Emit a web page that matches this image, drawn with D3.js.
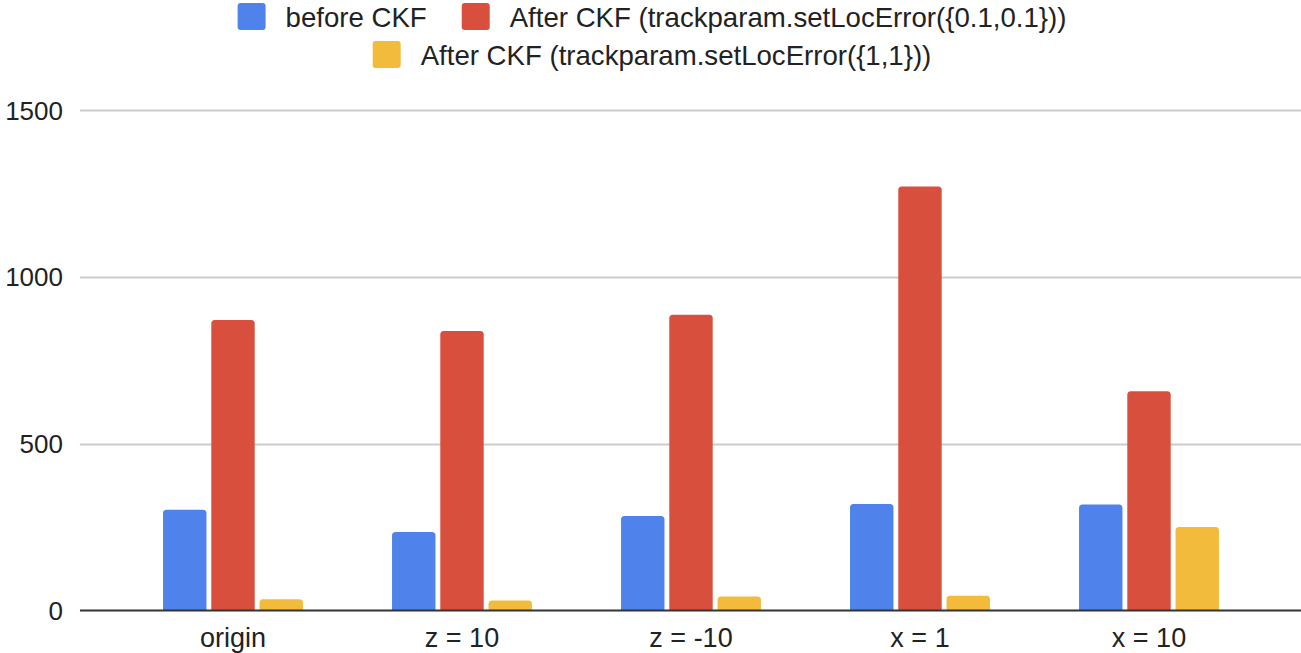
<!DOCTYPE html>
<html>
<head>
<meta charset="utf-8">
<script src="https://cdn.jsdelivr.net/npm/d3@7"></script>
<style>
  html, body { margin: 0; padding: 0; background: #fff; }
  svg { display: block; font-family: "Liberation Sans", Arial, Helvetica, sans-serif; }
</style>
</head>
<body>
<svg id="chart" width="1301" height="653"></svg>
<script>
// Track counts per starting position, before and after the CKF fit
const categories = ["origin", "z = 10", "z = -10", "x = 1", "x = 10"];
const seriesNames = [
  "before CKF",
  "After CKF (trackparam.setLocError({0.1,0.1}))",
  "After CKF (trackparam.setLocError({1,1}))"
];
const beforeCKF = [302, 235, 283, 319, 318];
const afterCKF01 = [871, 838, 886, 1271, 657];
const afterCKF1 = [34, 30, 42, 44, 250];
const yTicks = [0, 500, 1000, 1500];
const colors = ["#4f82ea", "#d94f3e", "#f2bb3b"];

const seriesValues = [beforeCKF, afterCKF01, afterCKF1];
const rows = categories.map((c, i) => ({
  category: c,
  values: seriesValues.map((s, k) => ({ key: k, value: s[i] }))
}));

const svg = d3.select("#chart");
const W = 1301, H = 653;
const plot = { left: 118.5, right: 1263.5, top: 110, bottom: 610.5, gridLeft: 80 };

const y = d3.scaleLinear().domain([0, 1500]).range([plot.bottom, plot.top]);
const x0 = d3.scaleBand().domain(categories).range([plot.left, plot.right])
  .paddingInner(0.389).paddingOuter(0.1945);
const x1 = d3.scaleBand().domain([0, 1, 2]).range([0, x0.bandwidth()]).paddingInner(0.1);

// horizontal gridlines
svg.append("g").selectAll("line")
  .data(yTicks.filter(t => t !== 0))
  .join("line")
  .attr("x1", plot.gridLeft).attr("x2", W)
  .attr("y1", d => Math.round(y(d)) + 0.5).attr("y2", d => Math.round(y(d)) + 0.5)
  .attr("stroke", "#cccccc").attr("stroke-width", 2);

// y-axis labels
const yAxis = d3.axisLeft(y).tickValues(yTicks).tickFormat(d3.format("d")).tickSize(0).tickPadding(0);
const yg = svg.append("g").attr("transform", "translate(63,0)").call(yAxis);
yg.select(".domain").remove();
yg.selectAll("text")
  .attr("font-size", 26).attr("fill", "#222").attr("font-family", null)
  .attr("dy", "0.35em");

// rounded-top bar path
function barPath(xp, w, yt, yb, r) {
  const rr = Math.min(r, w / 2, Math.max(0, yb - yt));
  return `M${xp},${yb}V${yt + rr}Q${xp},${yt} ${xp + rr},${yt}H${xp + w - rr}Q${xp + w},${yt} ${xp + w},${yt + rr}V${yb}Z`;
}

const groups = svg.append("g").selectAll("g")
  .data(rows).join("g")
  .attr("transform", d => `translate(${x0(d.category)},0)`);

groups.selectAll("path")
  .data(d => d.values)
  .join("path")
  .attr("d", d => barPath(x1(d.key), x1.bandwidth(), y(d.value), y(0), 3.5))
  .attr("fill", d => colors[d.key]);

// baseline
svg.append("line")
  .attr("x1", plot.gridLeft).attr("x2", W)
  .attr("y1", y(0)).attr("y2", y(0))
  .attr("stroke", "#333").attr("stroke-width", 2);

// x-axis labels
const xAxis = d3.axisBottom(x0).tickSize(0).tickPadding(0);
const xg = svg.append("g").attr("transform", `translate(0,${y(0)})`).call(xAxis);
xg.select(".domain").remove();
xg.selectAll("text")
  .attr("font-size", 27).attr("fill", "#222").attr("font-family", null)
  .attr("y", 36).attr("dy", 0);

// legend, two centred rows
const legendRows = [[0, 1], [2]];
const legendY = [27, 65];
const sw = 28, gapText = 20, gapItem = 35;
const lg = svg.append("g");
legendRows.forEach((items, r) => {
  const row = lg.append("g");
  let cx = 0;
  items.forEach((k, j) => {
    const it = row.append("g").attr("transform", `translate(${cx},0)`);
    it.append("rect").attr("x", 0).attr("y", legendY[r] - 24).attr("width", sw).attr("height", 27)
      .attr("rx", 3).attr("fill", colors[k]);
    const t = it.append("text").attr("x", sw + gapText).attr("y", legendY[r])
      .attr("font-size", 27.6).attr("fill", "#222").text(seriesNames[k]);
    cx += sw + gapText + t.node().getComputedTextLength() + gapItem;
  });
  const width = cx - gapItem;
  row.attr("transform", `translate(${652 - width / 2},0)`);
});
</script>
</body>
</html>
